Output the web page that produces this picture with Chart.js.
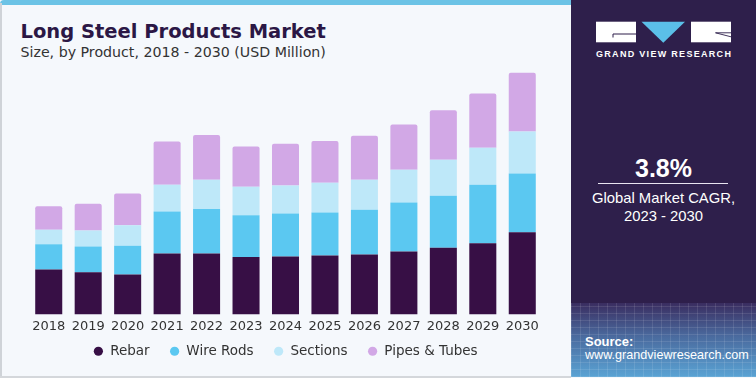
<!DOCTYPE html>
<html><head><meta charset="utf-8">
<script src="https://cdn.jsdelivr.net/npm/chart.js@4.4.0/dist/chart.umd.min.js"></script>
<style>
html,body{margin:0;padding:0;}
body{width:756px;height:378px;position:relative;overflow:hidden;background:#f5f8fc;font-family:"DejaVu Sans",sans-serif;}
.abs{position:absolute;white-space:nowrap;}
#topband{left:0;top:0;width:571px;height:5px;background:#6cc3e6;border-top-left-radius:4px;}
#lborder{left:0;top:3px;width:1.5px;height:375px;background:#cfd3d8;}
#bborder{left:0;top:376px;width:571px;height:2px;background:#d4d7db;}
#title{left:20.5px;top:21.5px;font:bold 19.5px/20px "DejaVu Sans",sans-serif;color:#2b1745;}
#subtitle{left:20.5px;top:43.8px;font:14.2px/16px "DejaVu Sans",sans-serif;color:#333;}
#panel{left:571px;top:0;width:185px;height:377px;background:#2e1f4b;overflow:hidden;}
#panelbottom{left:0;top:303px;width:185px;height:74px;
 background:
  repeating-linear-gradient(90deg, rgba(255,255,255,0.10) 0 1px, transparent 1px 9px),
  repeating-linear-gradient(0deg, rgba(255,255,255,0.10) 0 1px, transparent 1px 7px),
  linear-gradient(to bottom,#3a2d60 0%,#4a6a9e 45%,#5aa3d4 100%);}
.ptxt{color:#fff;font-family:"Liberation Sans",Arial,sans-serif;}
#cagr{left:0;width:185px;text-align:center;top:153px;font-weight:bold;font-size:25px;line-height:30px;}
#rule{left:27px;top:183px;width:130px;height:1px;background:#e8e4f0;}
#gm1{left:0;width:185px;text-align:center;top:188.6px;font-size:14.8px;line-height:18px;}
#gm2{left:0;width:185px;text-align:center;top:206.9px;font-size:14.8px;line-height:18px;}
#gvr{left:25px;top:48.7px;font-weight:bold;font-size:9px;line-height:11px;letter-spacing:1.3px;}
#src1{left:14px;top:334px;font-weight:bold;font-size:13px;line-height:15px;}
#src2{left:14px;top:348.1px;font-size:12.6px;line-height:15px;}
#chartbox{left:0;top:60px;width:571px;height:318px;}
</style></head>
<body>
<div class="abs" id="topband"></div>
<div class="abs" id="lborder"></div>
<div class="abs" id="bborder"></div>
<div class="abs" id="title">Long Steel Products Market</div>
<div class="abs" id="subtitle">Size, by Product, 2018 - 2030 (USD Million)</div>
<div class="abs" id="chartbox"><canvas id="c" width="571" height="318"></canvas></div>
<div class="abs" id="panel">
  <div class="abs" id="panelbottom"></div>
  <svg class="abs" style="left:0;top:0" width="185" height="60" viewBox="0 0 185 60">
    <rect x="25" y="21.7" width="40" height="20.6" fill="#fff"/>
    <polyline points="42,37.5 42,34 65,34" fill="none" stroke="#2e1f4b" stroke-width="1"/>
    <polygon points="70.5,21.7 114,21.7 92.3,42.7" fill="#5bbfe8"/>
    <rect x="120" y="21.7" width="40" height="20.6" fill="#fff"/>
    <polyline points="160,36.8 144.5,32.8 160,32.8" fill="none" stroke="#2e1f4b" stroke-width="0.9"/>
  </svg>
  <div class="abs ptxt" id="gvr">GRAND VIEW RESEARCH</div>
  <div class="abs ptxt" id="cagr">3.8%</div>
  <div class="abs" id="rule"></div>
  <div class="abs ptxt" id="gm1">Global Market CAGR,</div>
  <div class="abs ptxt" id="gm2">2023 - 2030</div>
  <div class="abs ptxt" id="src1">Source:</div>
  <div class="abs ptxt" id="src2">www.grandviewresearch.com</div>
</div>
<script>
// Categories
const years = ['2018','2019','2020','2021','2022','2023','2024','2025','2026','2027','2028','2029','2030'];
// Series values (USD Million)
const rebar      = [112500, 105800, 100000, 152500, 152500, 144300, 145000, 147500, 150000, 157500, 167500, 178300, 205800];
const wireRods   = [ 63300,  64300,  72500, 105800, 111800, 104000, 108300, 108300, 112500, 123300, 130000, 146800, 147500];
const sections   = [ 36800,  40000,  50800,  66800,  73300,  71800,  70000,  74300,  75000,  81800,  90000,  92500, 105000];
const pipesTubes = [ 58300,  67500,  80000, 108300, 111800, 100800, 104300, 104300, 110000, 113300, 124300, 135800, 147500];
const seriesNames = ['Rebar','Wire Rods','Sections','Pipes & Tubes'];
const seriesColors = ['#370f45','#5bc8f1','#bee8f9','#d2a8e6'];
const seriesData = [rebar, wireRods, sections, pipesTubes];

const datasets = seriesData.map((d,i)=>({
  label: seriesNames[i],
  data: d,
  backgroundColor: seriesColors[i],
  borderWidth: 0,
  borderRadius: i===3 ? {topLeft:2, topRight:2, bottomLeft:0, bottomRight:0} : 0,
  borderSkipped: false,
  barPercentage: 0.685,
  categoryPercentage: 1.0
}));

// shift the legend up a little (keeps wide horizontal item spacing)
const legendShift = {
  id: 'legendShift',
  afterLayout(chart) {
    const lg = chart.legend;
    if (lg) { lg.top -= 10; lg.bottom -= 10; }
  }
};

new Chart(document.getElementById('c'), {
  type: 'bar',
  data: { labels: years, datasets },
  plugins: [legendShift],
  options: {
    responsive: false,
    devicePixelRatio: 1,
    animation: false,
    layout: { padding: { left: 29, right: 29, top: 0, bottom: 0 } },
    scales: {
      x: {
        stacked: true,
        grid: { display: false, drawTicks: false },
        border: { display: false },
        ticks: { color: '#333', font: { family: 'DejaVu Sans', size: 13 }, padding: 4, maxRotation: 0, autoSkip: false },
        afterFit: (s) => { s.height = 20; }
      },
      y: { stacked: true, display: false, min: 0, max: 637500 }
    },
    plugins: {
      legend: {
        position: 'bottom',
        labels: {
          usePointStyle: true, pointStyle: 'circle',
          boxWidth: 10, boxHeight: 6.5, padding: 20,
          color: '#333', font: { family: 'DejaVu Sans', size: 13.5 }
        }
      },
      tooltip: { enabled: false }
    }
  }
});
</script>
</body></html>
